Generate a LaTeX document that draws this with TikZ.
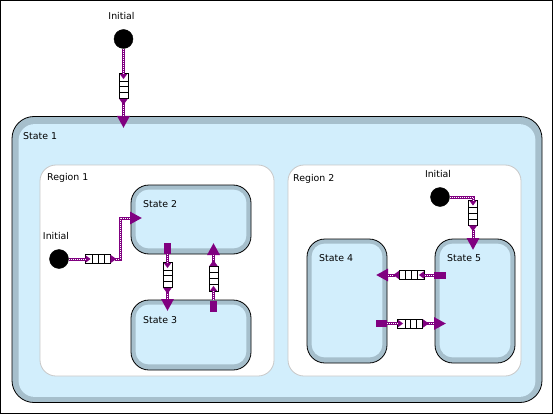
\documentclass[tikz,border=0pt]{standalone}
\usepackage{fontspec}
\setmainfont{DejaVu Sans}
\usetikzlibrary{arrows.meta,calc}
\definecolor{tpurple}{HTML}{800080}
\definecolor{sband}{HTML}{A6BFCC}
\definecolor{sfill}{HTML}{D2EEFC}
\definecolor{rborder}{HTML}{C8C8C8}
\begin{document}
\begin{tikzpicture}[x=1pt,y=-1pt,font=\fontsize{9.4}{11}\selectfont,
  statebox/.style={draw=black,fill=sband,line width=0.8pt,rounded corners=#1,inner sep=0pt},
  regionbox/.style={draw=rborder,fill=white,line width=0.8pt,rounded corners=16pt,inner sep=0pt},
  lbl/.style={inner sep=0pt},
  initc/.style={circle,fill=black,draw=black,minimum size=19pt,inner sep=0pt},
  srcsq/.style={fill=tpurple,inner sep=0pt},
  qv/.style={draw=black,fill=white,line width=0.8pt,minimum width=9pt,minimum height=25pt,inner sep=0pt,
    path picture={\foreach \f in {#1}{\draw[line width=0.8pt]
      ($(path picture bounding box.north west)!\f!(path picture bounding box.south west)$) --
      ($(path picture bounding box.north east)!\f!(path picture bounding box.south east)$);}}},
  qh/.style={draw=black,fill=white,line width=0.8pt,minimum width=25pt,minimum height=9pt,inner sep=0pt,
    path picture={\foreach \f in {#1}{\draw[line width=0.8pt]
      ($(path picture bounding box.north west)!\f!(path picture bounding box.north east)$) --
      ($(path picture bounding box.south west)!\f!(path picture bounding box.south east)$);}}},
  trans/.style={draw=tpurple,line width=3pt},
  wdots/.style 2 args={postaction={draw=white,line width=1pt,dash pattern=on 1pt off 1pt,-,shorten <=#1,shorten >=#2}},
  notch/.style={-{Triangle[width=7pt,length=5pt]}},
  headed/.style={{Triangle[reversed,width=8pt,length=6pt]}-{Triangle[width=12pt,length=12pt]}}
]
\useasboundingbox (0,0) rectangle (553,414);
\draw[black,line width=1pt] (0.5,0.5) rectangle (552.5,413.5);

% State 1
\node[statebox=22pt,minimum width=530pt,minimum height=286pt] (s1) at (277,259.5) {};
\fill[sfill,rounded corners=16pt] ([xshift=7pt,yshift=-8pt]s1.north west) rectangle ([xshift=-7pt,yshift=6pt]s1.south east);
\node[lbl,anchor=west] (l1) at (23,136) {State 1};

% Regions
\node[regionbox,minimum width=234pt,minimum height=211pt] (r1) at (157,270.5) {};
\node[regionbox,minimum width=233pt,minimum height=211pt] (r2) at (404.5,270.5) {};
\node[lbl,anchor=west] (lr1) at (47,178) {Region 1};
\node[lbl,anchor=west] (lr2) at (293,179) {Region 2};

% States
\node[statebox=18pt,minimum width=120pt,minimum height=69pt] (s2) at (191,219.5) {};
\node[statebox=18pt,minimum width=120pt,minimum height=70pt] (s3) at (191,335) {};
\node[statebox=18pt,minimum width=80pt,minimum height=124pt] (s4) at (347,301) {};
\node[statebox=18pt,minimum width=80pt,minimum height=124pt] (s5) at (475,301) {};
\foreach \s in {s2,s3,s4,s5}{
  \fill[sfill,rounded corners=13pt] ([xshift=5pt,yshift=-5pt]\s.north west) rectangle ([xshift=-5pt,yshift=6pt]\s.south east);
}
\node[lbl,anchor=west] (l2) at (143,204) {State 2};
\node[lbl,anchor=west] (l3) at (143,320) {State 3};
\node[lbl,anchor=west] (l4) at (319,258) {State 4};
\node[lbl,anchor=west] (l5) at (447,258) {State 5};

% Initial pseudostates
\node[initc] (i0) at (123.5,39) {};
\node[lbl] (li0) at (121.5,16) {Initial};
\node[initc] (i1) at (59,259) {};
\node[lbl] (li1) at (56,236) {Initial};
\node[initc] (i2) at (440,197) {};
\node[lbl] (li2) at (438,174) {Initial};

% Queues
\node[qv={0.3,0.53,0.76}] (q0) at (123.5,86) {};
\node[qh={0.3,0.53,0.76}] (q1) at (97.5,259) {};
\node[qv={0.3,0.53,0.76}] (q2) at (167.5,275) {};
\node[qv={0.24,0.47,0.7}] (q3) at (213.5,279) {};
\node[qh={0.24,0.47,0.7}] (q4) at (412,275) {};
\node[qh={0.3,0.53,0.76}] (q5) at (410,323.5) {};
\node[qv={0.3,0.53,0.76}] (q6) at (473,212.5) {};

% Source squares
\node[srcsq,minimum width=7pt,minimum height=11pt] (sq2) at (167.5,248.5) {};
\node[srcsq,minimum width=7pt,minimum height=11pt] (sq3) at (213.5,306) {};
\node[srcsq,minimum width=12pt,minimum height=7pt] (sq4) at (440,275) {};
\node[srcsq,minimum width=11pt,minimum height=7pt] (sq5) at (381.5,323.5) {};

% Arrow targets
\coordinate (t0) at (123.5,128);
\coordinate (t1) at (142,218);
\coordinate (t2) at (167.5,311);
\coordinate (t3) at (213.5,243);
\coordinate (t4) at (376,275);
\coordinate (t5) at (446,323.5);
\coordinate (t6) at (473,250);

% Transitions
\draw[trans,wdots={0pt}{5pt},notch] (i0) -- ([yshift=-6pt]q0.north);
\draw[trans,wdots={6pt}{12pt},headed] (q0.south) -- (t0);

\draw[trans,wdots={0pt}{5pt},notch] (i1) -- ([xshift=6pt]q1.west);
\draw[trans,wdots={6pt}{12pt},headed] (q1.east) -- ++(10,0) |- (t1);

\draw[trans,wdots={0pt}{5pt},notch] (sq2.south) -- ([yshift=-6pt]q2.north);
\draw[trans,wdots={6pt}{12pt},headed] (q2.south) -- (t2);

\draw[trans,wdots={0pt}{5pt},notch] (sq3.north) -- ([yshift=6pt]q3.south);
\draw[trans,wdots={6pt}{12pt},headed] (q3.north) -- (t3);

\draw[trans,wdots={0pt}{5pt},notch] (sq4.west) -- ([xshift=-6pt]q4.east);
\draw[trans,wdots={6pt}{12pt},headed] (q4.west) -- (t4);

\draw[trans,wdots={0pt}{5pt},notch] (sq5.east) -- ([xshift=6pt]q5.west);
\draw[trans,wdots={6pt}{12pt},headed] (q5.east) -- (t5);

\draw[trans,wdots={0pt}{5pt},notch] (i2.east) -| ([yshift=-6pt]q6.north);
\draw[trans,wdots={6pt}{12pt},headed] (q6.south) -- (t6);
\end{tikzpicture}
\end{document}
